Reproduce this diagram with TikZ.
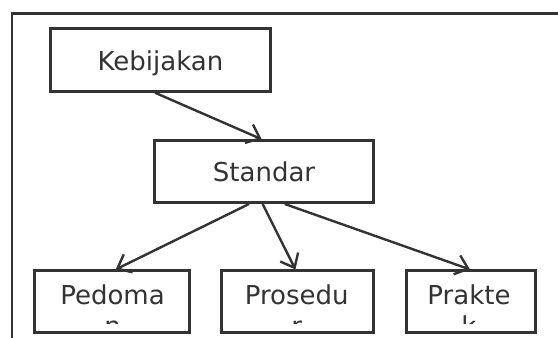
\documentclass[tikz,border=0pt]{standalone}
\usepackage{fontspec}
\setmainfont{DejaVu Sans}
\usetikzlibrary{arrows.meta,calc}
\definecolor{ink}{HTML}{333333}
\tikzset{
  box/.style={draw=ink, line width=2.7pt, inner sep=0pt, fill=none},
  lbl/.style={text=ink, font=\fontsize{26}{31}\selectfont, inner sep=0pt, anchor=base},
  conn/.style={draw=ink, line width=2.4pt, -{Straight Barb[length=12pt,width=20pt,line width=2.4pt]}}
}
\begin{document}
\begin{tikzpicture}[x=1pt,y=-1pt]
\useasboundingbox (0,0) rectangle (558,338);
\clip (0,0) rectangle (558,338);
\fill[white] (0,0) rectangle (558,338);
\draw[draw=ink, line width=2.7pt] (12,13.7) rectangle (620,400);
% boxes
\node[box, minimum width=219.7pt, minimum height=62.7pt] (keb) at (160.5,60) {};
\node[box, minimum width=219pt, minimum height=62pt] (std) at (264.1,171.6) {};
\node[box, minimum width=154.8pt, minimum height=61.8pt] (ped) at (112.2,301.7) {};
\node[box, minimum width=152.5pt, minimum height=61.8pt] (pro) at (297.4,301.7) {};
\node[box, minimum width=129pt, minimum height=61.8pt] (pra) at (470.8,301.7) {};
% texts
\node[lbl] (kebt) at (160.5,70) {Kebijakan};
\node[lbl] (stdt) at (264,181) {Standar};
\begin{scope}
\clip (0,0) rectangle (558,323.3);
\node[lbl] (pedt) at (112.5,304.5) {Pedoma};
\node[lbl] (pedu) at (112.5,335.5) {n};
\node[lbl] (prot) at (296.7,304.5) {Prosedu};
\node[lbl] (prou) at (296.7,335.5) {r};
\node[lbl] (prat) at (469,304.5) {Prakte};
\node[lbl] (prau) at (469,335.5) {k};
\end{scope}
% connectors
\draw[conn] ($(keb.south)+(-5.5,0)$) -- ($(std.north)+(-2.4,0)$);
\draw[conn] ($(std.south)+(-15,0)$) -- ($(ped.north)+(3.5,0)$);
\draw[conn] ($(std.south)+(-1.5,0)$) -- ($(pro.north)+(-2,0)$);
\draw[conn] ($(std.south)+(20.6,0)$) -- ($(pra.north)+(-0.8,0)$);
\end{tikzpicture}
\end{document}
